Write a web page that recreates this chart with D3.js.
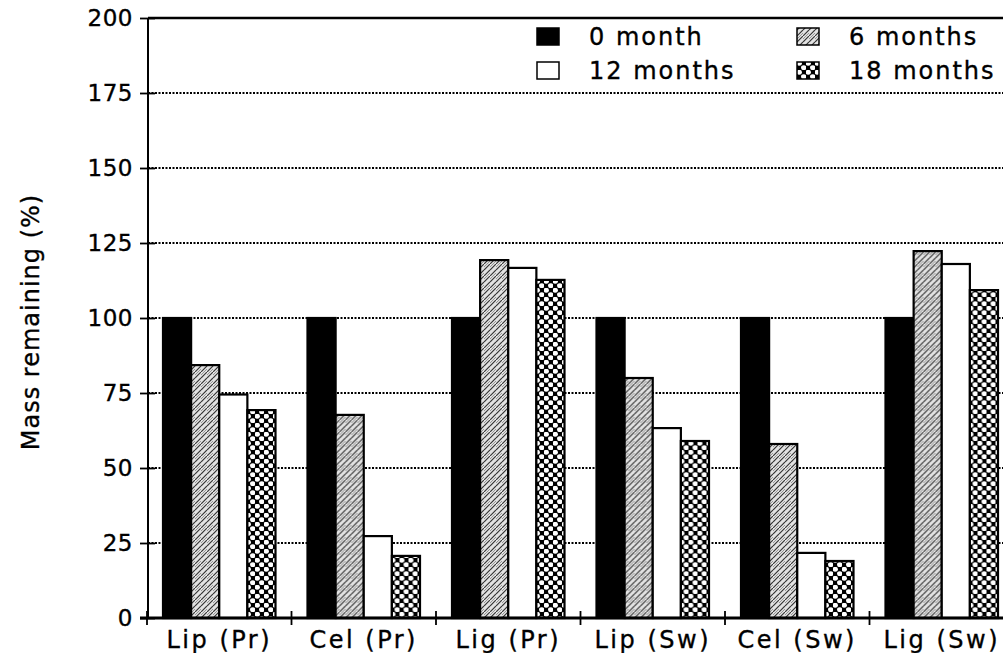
<!DOCTYPE html>
<html>
<head>
<meta charset="utf-8">
<script src="https://cdn.jsdelivr.net/npm/d3@7"></script>
<style>
  body { margin: 0; background: #fff; }
  text { font-family: "DejaVu Sans", Verdana, sans-serif; fill: #000; stroke: #000; stroke-width: 0.35px; }
</style>
</head>
<body>
<div id="chart"></div>
<script>
const categories = ["Lip (Pr)", "Cel (Pr)", "Lig (Pr)", "Lip (Sw)", "Cel (Sw)", "Lig (Sw)"];
const seriesNames = ["0 month", "6 months", "12 months", "18 months"];
const month0 = [100, 100, 100, 100, 100, 100];
const month6 = [84.3, 67.7, 119.3, 80, 58, 122.3];
const month12 = [74.5, 27.3, 116.7, 63.3, 21.7, 118];
const month18 = [69.3, 20.7, 112.7, 59, 19, 109.3];
const yTicks = [0, 25, 50, 75, 100, 125, 150, 175, 200];

const seriesValues = [month0, month6, month12, month18];
const fills = ["#000", "url(#hatch)", "#fff", "url(#net)"];
const font = "'DejaVu Sans', Verdana, sans-serif";

const svg = d3.select("#chart").append("svg")
  .attr("width", 1003)
  .attr("height", 653);

// patterns for the 6 and 18 month bars
const defs = svg.append("defs");
const hatch = defs.append("pattern")
  .attr("id", "hatch")
  .attr("patternUnits", "userSpaceOnUse")
  .attr("width", 6)
  .attr("height", 12);
hatch.append("rect").attr("width", 6).attr("height", 12).attr("fill", "#e2e2e2");
hatch.append("path")
  .attr("d", "M0,6 L6,0 M0,12 L6,6")
  .attr("stroke", "#333").attr("stroke-width", 1.1);
hatch.append("path")
  .attr("d", "M0,3 L3,0 M3,12 L6,9")
  .attr("stroke", "#777").attr("stroke-width", 0.7);

const net = defs.append("pattern")
  .attr("id", "net")
  .attr("patternUnits", "userSpaceOnUse")
  .attr("width", 9)
  .attr("height", 9);
net.append("rect").attr("width", 9).attr("height", 9).attr("fill", "#000");
net.append("ellipse").attr("cx", 2.25).attr("cy", 2.25).attr("rx", 2.7).attr("ry", 2.4).attr("fill", "#fff");
net.append("ellipse").attr("cx", 6.75).attr("cy", 6.75).attr("rx", 2.7).attr("ry", 2.4).attr("fill", "#fff");

const x0 = d3.scaleBand().domain(categories).range([147, 1014]).padding(0);
const x1 = d3.scaleBand().domain(seriesNames).range([16, x0.bandwidth() - 16]).padding(0);
const y = d3.scaleLinear().domain([0, 200]).range([618, 18]);

// dotted gridlines
svg.append("g")
  .selectAll("line")
  .data(yTicks.filter((d) => d > 0 && d < 200))
  .join("line")
  .attr("x1", 148)
  .attr("x2", 1003)
  .attr("y1", (d) => y(d))
  .attr("y2", (d) => y(d))
  .attr("stroke", "#000")
  .attr("stroke-width", 1.8)
  .attr("stroke-dasharray", "2,1.5");

// top frame
svg.append("line")
  .attr("x1", 148).attr("x2", 1003)
  .attr("y1", y(200)).attr("y2", y(200))
  .attr("stroke", "#000").attr("stroke-width", 2.4);

// bars
const groups = svg.append("g")
  .selectAll("g")
  .data(categories)
  .join("g")
  .attr("transform", (d) => `translate(${x0(d)},0)`);

groups.selectAll("rect")
  .data((d, i) => seriesNames.map((s, j) => ({ s, j, v: seriesValues[j][i] })))
  .join("rect")
  .attr("x", (d) => x1(d.s))
  .attr("y", (d) => y(d.v))
  .attr("width", x1.bandwidth())
  .attr("height", (d) => y(0) - y(d.v))
  .attr("fill", (d) => fills[d.j])
  .attr("stroke", "#000")
  .attr("stroke-width", 2.2);

// y axis
const yAxis = svg.append("g")
  .attr("transform", "translate(148,0)")
  .call(d3.axisLeft(y).tickValues(yTicks).tickSize(8).tickPadding(8));
yAxis.select(".domain").attr("stroke-width", 2).attr("d", `M0,${y(200)}V${y(0)}`);
yAxis.selectAll(".tick line").attr("x1", -8).attr("x2", 7).attr("stroke-width", 1.8);
yAxis.selectAll(".tick text")
  .attr("x", -15)
  .style("font-size", "23px")
  .style("letter-spacing", "0.5px")
  .style("font-family", font);

// x axis
const xAxis = svg.append("g")
  .attr("transform", `translate(0,${y(0)})`)
  .call(d3.axisBottom(x0).tickSize(0).tickPadding(13));
xAxis.select(".domain").attr("stroke-width", 3).attr("d", "M140,0H1003");
xAxis.selectAll(".tick text")
  .style("font-size", "24px")
  .style("letter-spacing", "2.5px")
  .style("font-family", font);
svg.append("g")
  .selectAll("line")
  .data(categories)
  .join("line")
  .attr("x1", (d) => x0(d))
  .attr("x2", (d) => x0(d))
  .attr("y1", y(0) - 7)
  .attr("y2", y(0) + 7)
  .attr("stroke", "#000")
  .attr("stroke-width", 1.8);

// y axis title
svg.append("text")
  .attr("transform", "translate(39,322) rotate(-90)")
  .attr("text-anchor", "middle")
  .style("font-size", "24px")
  .style("letter-spacing", "1px")
  .text("Mass remaining (%)");

// legend
const legendPos = [[537, 36], [797, 36], [537, 70], [797, 70]];
const legend = svg.append("g")
  .selectAll("g")
  .data(seriesNames)
  .join("g")
  .attr("transform", (d, i) => `translate(${legendPos[i][0]},${legendPos[i][1]})`);
legend.append("rect")
  .attr("x", 0).attr("y", -8)
  .attr("width", 22).attr("height", 17)
  .attr("fill", (d, i) => fills[i])
  .attr("stroke", "#000")
  .attr("stroke-width", 1.5);
legend.append("text")
  .attr("x", 52)
  .attr("dy", "0.36em")
  .style("font-size", "24px")
  .style("letter-spacing", "2px")
  .text((d) => d);
</script>
</body>
</html>
